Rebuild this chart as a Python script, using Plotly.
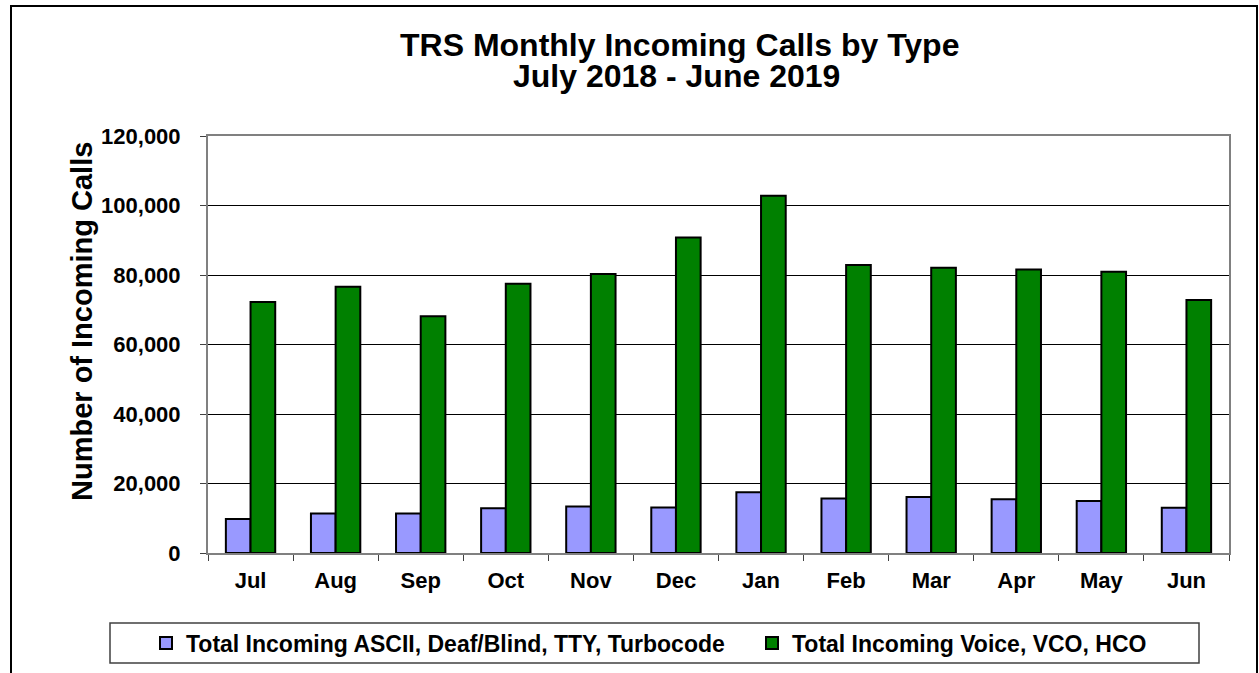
import plotly.graph_objects as go

months = ["Jul", "Aug", "Sep", "Oct", "Nov", "Dec", "Jan", "Feb", "Mar", "Apr", "May", "Jun"]
ascii_calls = [9800, 11400, 11400, 12900, 13400, 13100, 17500, 15700, 16100, 15500, 15000, 13000]
voice_calls = [72200, 76600, 68100, 77500, 80300, 90800, 102800, 82900, 82100, 81600, 80900, 72800]
y_ticks = [0, 20000, 40000, 60000, 80000, 100000, 120000]
y_tick_labels = ["0", "20,000", "40,000", "60,000", "80,000", "100,000", "120,000"]
series_names = ["Total Incoming ASCII, Deaf/Blind, TTY, Turbocode", "Total Incoming Voice, VCO, HCO"]
title_lines = ["TRS Monthly Incoming Calls by Type", "July 2018 - June 2019"]
y_title = "Number of Incoming Calls"

FONT = "Arial, 'Liberation Sans', sans-serif"
W, H = 1259, 673
L, R, T, B = 208, 30, 136, 120
PW, PH = W - L - R, H - T - B


def px(x):
    return (x - L) / PW


def py(y):
    return (H - B - y) / PH


fig = go.Figure()
fig.add_trace(go.Bar(x=months, y=ascii_calls, name=series_names[0],
                     marker=dict(color="#9999FF", line=dict(color="black", width=2))))
fig.add_trace(go.Bar(x=months, y=voice_calls, name=series_names[1],
                     marker=dict(color="#008000", line=dict(color="black", width=2))))

fig.update_layout(
    width=W, height=H,
    margin=dict(l=L, r=R, t=T, b=B, autoexpand=False),
    paper_bgcolor="white", plot_bgcolor="white",
    barmode="group", bargap=0.42, bargroupgap=0,
    font=dict(family=FONT, color="black"),
    showlegend=True,
    legend=dict(orientation="h", x=px(146), xanchor="left", y=py(643), yanchor="middle",
                bgcolor="rgba(0,0,0,0)", borderwidth=0,
                font=dict(family=FONT, size=23, color="black", weight="bold"),
                entrywidth=561, entrywidthmode="pixels", itemclick=False),
    xaxis=dict(type="category", tickson="boundaries", ticks="outside", ticklen=6, tickwidth=1,
               tickcolor="#404040", showline=True, linecolor="#808080", linewidth=2, mirror=True,
               tickfont=dict(family=FONT, size=22, color="black", weight="bold"),
               ticklabelstandoff=7, showgrid=False),
    yaxis=dict(range=[0, 120000], tickvals=y_ticks, ticktext=y_tick_labels,
               ticks="outside", ticklen=6, tickwidth=1, tickcolor="#404040",
               showline=True, linecolor="#808080", linewidth=2, mirror=True,
               showgrid=True, gridcolor="black", gridwidth=1, zeroline=False,
               tickfont=dict(family=FONT, size=22, color="black", weight="bold"),
               ticklabelstandoff=15),
    shapes=[
        dict(type="rect", xref="paper", yref="paper", x0=px(11), x1=px(1257), y0=py(690), y1=py(6),
             line=dict(color="black", width=2), fillcolor="rgba(0,0,0,0)", layer="below"),
        dict(type="rect", xref="paper", yref="paper", x0=px(110), x1=px(1199), y0=py(663), y1=py(623),
             line=dict(color="#404040", width=1.5), fillcolor="rgba(0,0,0,0)", layer="below"),
    ],
    annotations=[
        dict(text=title_lines[0], xref="paper", yref="paper", x=px(679), y=py(45),
             xanchor="center", yanchor="middle", showarrow=False,
             font=dict(family=FONT, size=32, color="black", weight="bold")),
        dict(text=title_lines[1], xref="paper", yref="paper", x=px(676), y=py(76),
             xanchor="center", yanchor="middle", showarrow=False,
             font=dict(family=FONT, size=32, color="black", weight="bold")),
        dict(text=y_title, xref="paper", yref="paper", x=px(82), y=py(322), textangle=-90,
             xanchor="center", yanchor="middle", showarrow=False,
             font=dict(family=FONT, size=29, color="black", weight="bold")),
    ],
)

fig.write_html("out.html", config={"displayModeBar": False},
               post_script="document.body.style.margin='0';document.body.style.padding='0';")
